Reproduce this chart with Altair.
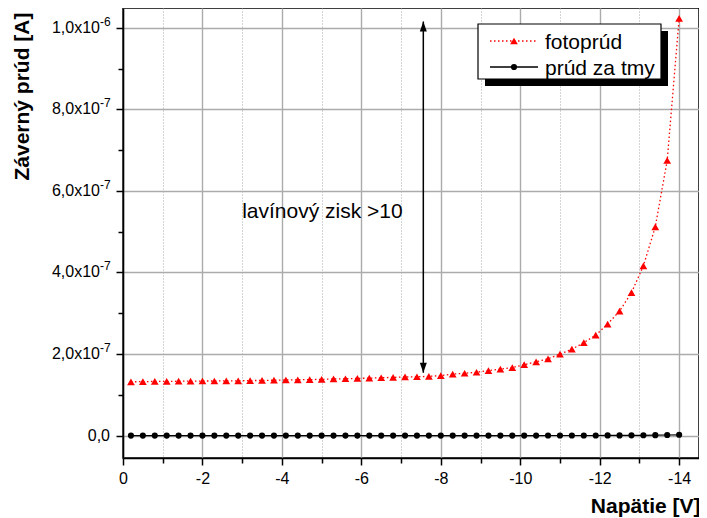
import altair as alt
import pandas as pd

# ---------------- data ----------------
voltage = [-0.2, -0.5, -0.8, -1.1, -1.4, -1.7, -2.0, -2.3, -2.6, -2.9,
           -3.2, -3.5, -3.8, -4.1, -4.4, -4.7, -5.0, -5.3, -5.6, -5.9,
           -6.2, -6.5, -6.8, -7.1, -7.4, -7.7, -8.0, -8.3, -8.6, -8.9,
           -9.2, -9.5, -9.8, -10.1, -10.4, -10.7, -11.0, -11.3, -11.6, -11.9,
           -12.2, -12.5, -12.8, -13.1, -13.4, -13.7, -14.0]

# photocurrent, units of 1e-7 A
photo_e7 = [1.32, 1.325, 1.33, 1.33, 1.335, 1.335, 1.34, 1.34, 1.345, 1.345,
            1.35, 1.355, 1.36, 1.365, 1.37, 1.375, 1.38, 1.39, 1.395, 1.405,
            1.41, 1.42, 1.43, 1.44, 1.445, 1.455, 1.47, 1.51, 1.53, 1.555,
            1.595, 1.63, 1.67, 1.74, 1.81, 1.885, 2.0, 2.12, 2.28, 2.465,
            2.735, 3.055, 3.505, 4.16, 5.12, 6.75, 10.23]

# dark current, units of 1e-9 A
dark_e9 = [0.3, 0.3, 0.3, 0.3, 0.3, 0.3, 0.3, 0.3, 0.3, 0.3,
           0.3, 0.3, 0.3, 0.3, 0.3, 0.3, 0.3, 0.3, 0.3, 0.3,
           0.3, 0.3, 0.3, 0.3, 0.3, 0.3, 0.3, 0.3, 0.3, 0.3,
           0.3, 0.3, 0.3, 0.3, 0.3, 0.4, 0.4, 0.4, 0.5, 0.5,
           0.6, 0.7, 0.8, 1.0, 1.3, 1.7, 2.2]

series_names = ["fotoprúd", "prúd za tmy"]
series_colors = ["#ff0000", "#000000"]

x_tick_values = [0, -1, -2, -3, -4, -5, -6, -7, -8, -9, -10, -11, -12, -13, -14]
y_tick_values = [0, 1e-7, 2e-7, 3e-7, 4e-7, 5e-7, 6e-7, 7e-7, 8e-7, 9e-7, 1e-6]
# y tick labels: mantissa part and exponent (superscript) part
y_label_values = [2e-7, 4e-7, 6e-7, 8e-7, 1e-6]
y_label_base = ["2,0x10", "4,0x10", "6,0x10", "8,0x10", "1,0x10"]
y_label_exp = ["-7", "-7", "-7", "-7", "-6"]
y_zero_label = ["0,0"]

arrow_v = [-7.56]
arrow_low = [1.54e-7]
arrow_high = [1.015e-6]
note_v = [-3.0]
note_i = [5.48e-7]
note_text = ["lavínový zisk >10"]

x_title = "Napätie [V]"
y_title = "Záverný prúd [A]"

FONT = "Liberation Sans"

photo_df = pd.DataFrame({"V": voltage, "I": [v * 1e-7 for v in photo_e7]})
dark_df = pd.DataFrame({"V": voltage, "I": [v * 1e-9 for v in dark_e9]})

W, H = 576, 450

odd_x = "datum.value % 2 != 0"
odd_y = "round(datum.value*1e7) % 2 != 0"

xaxis = alt.Axis(
    values=x_tick_values,
    labelExpr="datum.value % 2 == 0 ? '' + datum.value : ''",
    labelFlush=False, labelOverlap=False,
    labelFont=FONT, labelFontSize=16, labelColor="black", labelPadding=5,
    grid=True, gridColor="#ababab",
    gridWidth={"condition": {"test": odd_x, "value": 1}, "value": 1.4},
    gridDash={"condition": {"test": odd_x, "value": [1, 2]}, "value": []},
    tickSize={"condition": {"test": odd_x, "value": 5}, "value": 7},
    tickColor="black", tickWidth=1.5,
    domainColor="black", domainWidth=1.5,
    title=x_title, titleFont=FONT, titleFontSize=21, titleFontWeight="bold",
    titleColor="black", titleX=W + 1, titleY=48, titleAlign="right",
    titleBaseline="middle", titleAngle=0,
)

yaxis = alt.Axis(
    values=y_tick_values,
    labels=False,
    grid=True, gridColor="#ababab", gridWidth=1.4,
    gridOpacity={"condition": {"test": odd_y, "value": 0}, "value": 1},
    tickSize={"condition": {"test": odd_y, "value": 5}, "value": 7},
    tickColor="black", tickWidth=1.5,
    domainColor="black", domainWidth=1.5,
    title=y_title, titleFont=FONT, titleFontSize=21, titleFontWeight="bold",
    titleColor="black", titleX=-101, titleY=88, titleAngle=270,
    titleAlign="center", titleBaseline="middle",
)

xs = alt.Scale(domain=[0, -14.5], nice=False, zero=False)
ys = alt.Scale(domain=[-5.47e-8, 1.0483e-6], nice=False, zero=False)

x_enc = alt.X("V:Q", scale=xs, axis=xaxis)
y_enc = alt.Y("I:Q", scale=ys, axis=yaxis)

photo_line = alt.Chart(photo_df).mark_line(
    color=series_colors[0], strokeWidth=1.3, strokeDash=[1.5, 2.5]
).encode(x=x_enc, y=y_enc)
photo_pts = alt.Chart(photo_df).mark_point(
    shape="triangle-up", filled=True, color=series_colors[0], size=60, opacity=1
).encode(x=x_enc, y=y_enc)
dark_line = alt.Chart(dark_df).mark_line(
    color=series_colors[1], strokeWidth=1.2
).encode(x=x_enc, y=y_enc)
dark_pts = alt.Chart(dark_df).mark_point(
    shape="circle", filled=True, color=series_colors[1], size=38, opacity=1
).encode(x=x_enc, y=y_enc)

arrow_df = pd.DataFrame({"V": arrow_v, "I": arrow_low, "I2": arrow_high})
arrow_rule = alt.Chart(arrow_df).mark_rule(color="black", strokeWidth=1.5).encode(
    x=x_enc, y=y_enc, y2="I2:Q")
head_up = alt.Chart(arrow_df).mark_point(
    shape="M0,0L-0.35,1L0.35,1Z", filled=True, color="black", size=400, opacity=1
).encode(x=x_enc, y=alt.Y("I2:Q", scale=ys, axis=yaxis))
head_down = alt.Chart(arrow_df).mark_point(
    shape="M0,0L-0.35,-1L0.35,-1Z", filled=True, color="black", size=400, opacity=1
).encode(x=x_enc, y=y_enc)

note_df = pd.DataFrame({"V": note_v, "I": note_i, "label": note_text})
note = alt.Chart(note_df).mark_text(
    align="left", baseline="middle", font=FONT, fontSize=21, color="black"
).encode(x=x_enc, y=y_enc, text="label:N")

# ---------------- y tick labels with superscript exponents ----------------
ylab_df = pd.DataFrame({"I": y_label_values, "base": y_label_base, "exp": y_label_exp})
ylab_base = alt.Chart(ylab_df).mark_text(
    align="right", baseline="middle", font=FONT, fontSize=16, color="black"
).encode(x=alt.value(-23), y=y_enc, text="base:N")
ylab_exp = alt.Chart(ylab_df).mark_text(
    align="left", baseline="middle", font=FONT, fontSize=12, color="black", dy=-6
).encode(x=alt.value(-23), y=y_enc, text="exp:N")
yzero_df = pd.DataFrame({"I": [0.0], "base": y_zero_label})
ylab_zero = alt.Chart(yzero_df).mark_text(
    align="right", baseline="middle", font=FONT, fontSize=16, color="black"
).encode(x=alt.value(-13), y=y_enc, text="base:N")

# ---------------- legend (drawn manually) ----------------
one = pd.DataFrame({"k": [0]})
leg_layers = [
    alt.Chart(one).mark_rect(color="black").encode(
        x=alt.value(362), x2=alt.value(545), y=alt.value(23), y2=alt.value(78)),
    alt.Chart(one).mark_rect(fill="white", stroke="black", strokeWidth=1.2).encode(
        x=alt.value(355), x2=alt.value(538), y=alt.value(16), y2=alt.value(71)),
]
row_y = [33, 59]
for i, name in enumerate(series_names):
    col = series_colors[i]
    dash = [1.5, 2.5] if i == 0 else [1, 0]
    shape = "triangle-up" if i == 0 else "circle"
    lab = pd.DataFrame({"label": [name]})
    leg_layers.append(
        alt.Chart(lab).mark_rule(color=col, strokeWidth=1.3, strokeDash=dash).encode(
            x=alt.value(367), x2=alt.value(415), y=alt.value(row_y[i])))
    leg_layers.append(
        alt.Chart(lab).mark_point(shape=shape, filled=True, color=col,
                                  size=60 if i == 0 else 38, opacity=1).encode(
            x=alt.value(391), y=alt.value(row_y[i])))
    leg_layers.append(
        alt.Chart(lab).mark_text(align="left", baseline="alphabetic", font=FONT,
                                 fontSize=21, color="black").encode(
            x=alt.value(422), y=alt.value(row_y[i] + 7.5), text="label:N"))

chart = alt.layer(
    photo_line, dark_line, photo_pts, dark_pts,
    arrow_rule, head_up, head_down, note,
    ylab_base, ylab_exp, ylab_zero, *leg_layers
).properties(
    width=W, height=H,
    autosize=alt.AutoSizeParams(type="none"),
    padding={"left": 115, "top": 0, "right": 0, "bottom": 60},
).configure_view(stroke="black", strokeWidth=1.5)

chart.save("out.html", embed_options={"renderer": "svg", "actions": False})
